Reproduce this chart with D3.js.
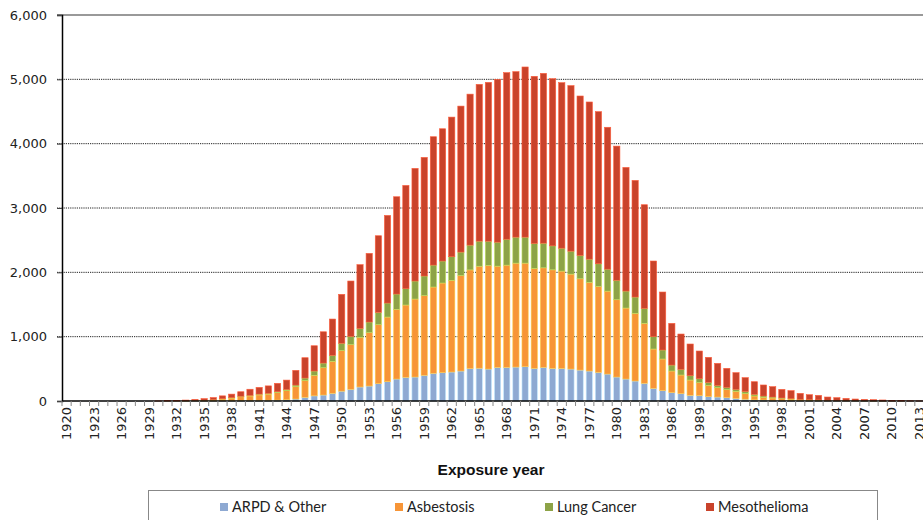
<!DOCTYPE html>
<html><head><meta charset="utf-8">
<script src="https://cdn.jsdelivr.net/npm/d3@7"></script>
<style>body{margin:0;background:#fff}svg{display:block}</style>
</head><body>
<svg id="c" width="923" height="520"></svg>
<script>
const years = d3.range(1920, 2014);
const seriesNames = ["ARPD & Other", "Asbestosis", "Lung Cancer", "Mesothelioma"];
const arpd = [0,0,0,0,0,0,0,0,0,0, 0,0,0,0,1,1,2,3,4,6, 8,10,12,15,20,31,57,80,93,119,
  153,181,218,233,269,300,342,368,373,399, 430,440,451,466,505,510,497,523,523,528,
  533,507,523,507,507,497,481,466,445,419, 373,342,311,275,197,161,130,114,88,83,
  67,62,52,41,28,18,16,10,8,5, 4,3,3,2,2,1,1,1,0,0, 0,0,0,0];
const asbestosis = [0,0,0,0,0,0,0,0,0,0, 0,1,2,3,6,10,17,28,42,60, 70,85,95,115,140,191,259,319,424,497,
  630,694,771,829,917,1005,1083,1124,1212,1238, 1342,1394,1424,1482,1533,1585,1610,1573,1589,1615,
  1610,1553,1547,1532,1512,1475,1419,1377,1336,1289, 1201,1103,1051,932,611,492,336,290,238,202,
  176,145,124,109,86,60,41,37,28,26, 17,13,10,7,5,4,3,2,2,1, 1,1,0,0];
const lungCancer = [0,0,0,0,0,0,0,0,0,0, 0,0,0,1,1,2,3,4,6,8, 10,12,13,15,20,26,41,67,73,94,
  115,130,140,166,192,218,238,254,280,306, 341,342,368,367,385,390,377,373,403,404,
  404,388,383,373,357,357,362,362,352,342, 303,264,254,233,192,140,93,88,68,62,
  47,36,36,31,34,26,21,15,11,5, 5,5,4,3,2,2,1,1,1,1, 0,0,0,0];
const mesothelioma = [0,0,0,0,0,0,0,0,0,0, 2,4,8,11,18,24,32,45,55,70, 95,105,115,130,145,228,316,393,486,564,
  760,860,990,1067,1191,1362,1512,1605,1751,1844, 1995,2056,2170,2269,2347,2437,2469,2531,2589,2572,
  2645,2599,2640,2598,2572,2573,2479,2443,2365,2205, 2085,1922,1813,1611,1176,901,648,549,492,430,
  389,342,296,259,215,196,171,161,134,125, 93,77,71,50,43,34,26,22,18,14, 9,7,4,2];
const yTicks = [0,1000,2000,3000,4000,5000,6000];
const xLabelYears = years.filter(y => (y - 1920) % 3 === 0);
const colors = ["#8EA9D2", "#F79537", "#8DA347", "#C9432B"];

(function () {
const svg = d3.select("#c");
const pL = 62, pR = 924, pT = 15, pB = 401;
const x = d3.scaleBand().domain(years).range([pL, pR]).paddingInner(0.32).paddingOuter(0.16);
const y = d3.scaleLinear().domain([0, 6000]).range([pB, pT]);

const table = years.map((yr, i) => ({year: yr, "ARPD & Other": arpd[i], "Asbestosis": asbestosis[i], "Lung Cancer": lungCancer[i], "Mesothelioma": mesothelioma[i]}));
const stack = d3.stack().keys(seriesNames)(table);

// gridlines
const grid = svg.append("g");
yTicks.filter(t => t > 0).forEach(t => {
  grid.append("line").attr("x1", pL - 5).attr("x2", 923).attr("y1", y(t)).attr("y2", y(t))
    .attr("stroke", t === 6000 ? "#999" : "#222")
    .attr("stroke-width", t === 6000 ? 2 : 1)
    .attr("stroke-dasharray", t === 6000 ? null : "1.2,1");
});

// bars
svg.append("g").selectAll("g").data(stack).join("g")
  .attr("fill", (d, i) => colors[i])
  .attr("stroke", (d, i) => d3.color(colors[i]).brighter(0.9))
  .attr("stroke-width", 0.6)
  .selectAll("rect").data(d => d).join("rect")
  .attr("x", d => x(d.data.year))
  .attr("width", x.bandwidth())
  .attr("y", d => y(d[1]))
  .attr("height", d => Math.max(0, y(d[0]) - y(d[1])))
  .attr("stroke-opacity", d => (d[1] - d[0]) > 0 ? 1 : 0);

// y axis
const yAxis = svg.append("g").attr("transform", `translate(${pL},0)`)
  .call(d3.axisLeft(y).tickValues(yTicks).tickFormat(d3.format(",")).tickSize(5).tickPadding(10));
yAxis.select(".domain").attr("stroke", "#000").attr("stroke-width", 1.5);
yAxis.selectAll(".tick line").attr("stroke", "#444");
yAxis.selectAll("text").attr("font-family", "DejaVu Sans").attr("font-size", 13).attr("fill", "#222");

// x axis
const xg = svg.append("g").attr("transform", `translate(0,${pB})`);
xg.append("line").attr("x1", pL).attr("x2", 923).attr("y1", 0).attr("y2", 0).attr("stroke", "#000").attr("stroke-width", 1.5);
const step = x.step();
years.forEach(yr => {
  const bx = x(yr) - (step - x.bandwidth()) / 2;
  xg.append("line").attr("x1", bx).attr("x2", bx).attr("y1", 0).attr("y2", 5).attr("stroke", "#888");
});
xg.selectAll("text").data(xLabelYears).join("text")
  .attr("transform", d => `translate(${x(d) + x.bandwidth() / 2 + 4.5},6) rotate(-90)`)
  .attr("text-anchor", "end")
  .attr("font-family", "DejaVu Sans").attr("font-size", 13).attr("fill", "#222")
  .text(d => d);

svg.append("text").attr("x", 491).attr("y", 475).attr("text-anchor", "middle")
  .attr("font-family", "Liberation Sans").attr("font-weight", "bold").attr("font-size", 15.5)
  .attr("fill", "#111").text("Exposure year");

// legend
svg.append("rect").attr("x", 148.5).attr("y", 490.5).attr("width", 729).attr("height", 40)
  .attr("fill", "none").attr("stroke", "#888");
const legX = [220, 395, 545, 706];
const leg = svg.append("g").selectAll("g").data(seriesNames).join("g")
  .attr("transform", (d, i) => `translate(${legX[i]},0)`);
leg.append("rect").attr("x", 0).attr("y", 503).attr("width", 8).attr("height", 8).attr("fill", (d, i) => colors[i]);
leg.append("text").attr("x", 12).attr("y", 512).attr("font-family", "Lato").attr("font-size", 14.5)
  .attr("fill", "#222").text(d => d);
})();
</script>
</body></html>
